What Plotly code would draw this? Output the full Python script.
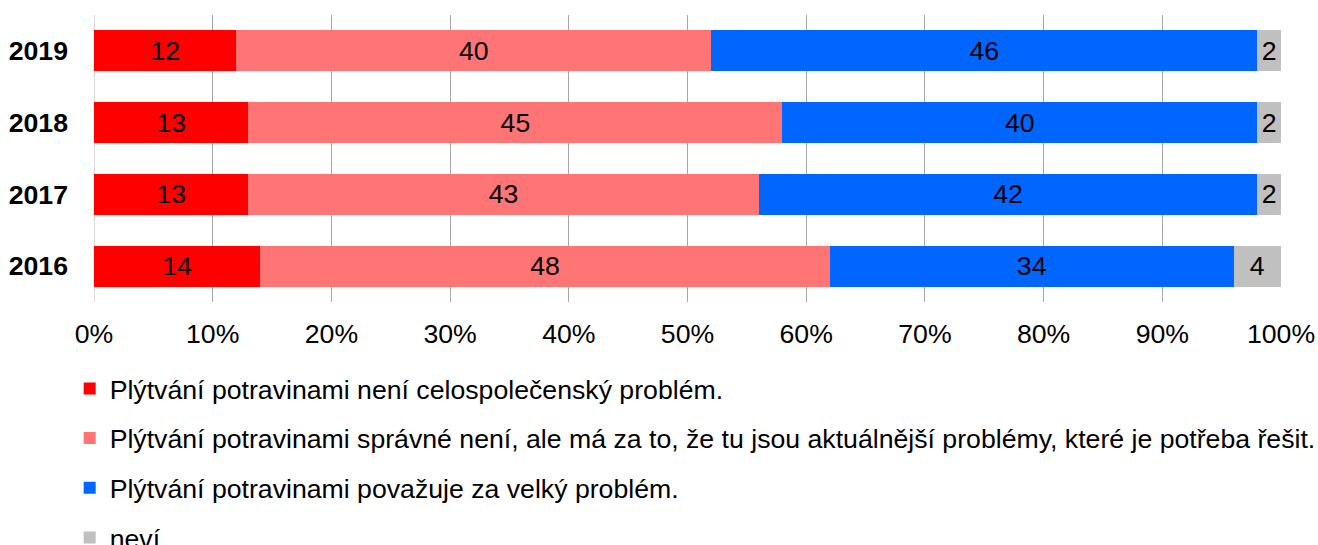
import plotly.graph_objects as go

# survey years (bottom to top)
years = ["2016", "2017", "2018", "2019"]

# share of answers in %
not_problem = [14, 13, 13, 12]
other_problems = [48, 43, 45, 40]
big_problem = [34, 42, 40, 46]
dont_know = [4, 2, 2, 2]

series_names = [
    "Plýtvání potravinami není celospolečenský problém.",
    "Plýtvání potravinami správné není, ale má za to, že tu jsou aktuálnější problémy, které je potřeba řešit.",
    "Plýtvání potravinami považuje za velký problém.",
    "neví",
]
series_values = [not_problem, other_problems, big_problem, dont_know]
series_colors = ["#FF0000", "#FF7575", "#0066FF", "#C0C0C0"]

font_family = "Liberation Sans, Arial, sans-serif"
fsize = 26.67  # 20pt

fig = go.Figure()
for name, vals, color in zip(series_names, series_values, series_colors):
    fig.add_trace(go.Bar(
        y=years,
        x=vals,
        name=name,
        orientation="h",
        marker=dict(color=color, line=dict(width=0)),
        text=[str(v) for v in vals],
        textposition="inside",
        insidetextanchor="middle",
        textfont=dict(size=fsize, color="black", family=font_family),
        legendgroup=name,
        hoverinfo="x+name",
    ))

fig.update_layout(
    width=1318,
    height=545,
    barmode="stack",
    bargap=0.43,
    plot_bgcolor="white",
    paper_bgcolor="white",
    font=dict(family=font_family, size=fsize, color="black"),
    margin=dict(l=94, r=37, t=15, b=243, autoexpand=False),
    xaxis=dict(
        range=[0, 100],
        dtick=10,
        ticksuffix="%",
        showgrid=True,
        gridcolor="#A6A6A6",
        gridwidth=1,
        zeroline=True,
        zerolinecolor="#D9D9D9",
        zerolinewidth=1,
        showline=False,
        ticks="",
        ticklabelstandoff=13,
        ticklabeloverflow="allow",
        tickfont=dict(size=fsize),
        fixedrange=True,
    ),
    yaxis=dict(
        type="category",
        categoryorder="array",
        categoryarray=years,
        showgrid=False,
        zeroline=False,
        showline=False,
        ticks="",
        ticklabelstandoff=25,
        tickfont=dict(size=fsize, weight="bold"),
        fixedrange=True,
    ),
    legend=dict(
        orientation="v",
        x=-0.0205,
        xanchor="left",
        y=-0.218,
        yanchor="top",
        traceorder="grouped",
        tracegroupgap=12,
        font=dict(size=fsize),
        bgcolor="rgba(0,0,0,0)",
    ),
    showlegend=True,
)

# drop the default 8px body margin so the figure fills the window exactly
fig.write_html("out.html", config={"displayModeBar": False},
               post_script="document.body.style.margin = '0';")
